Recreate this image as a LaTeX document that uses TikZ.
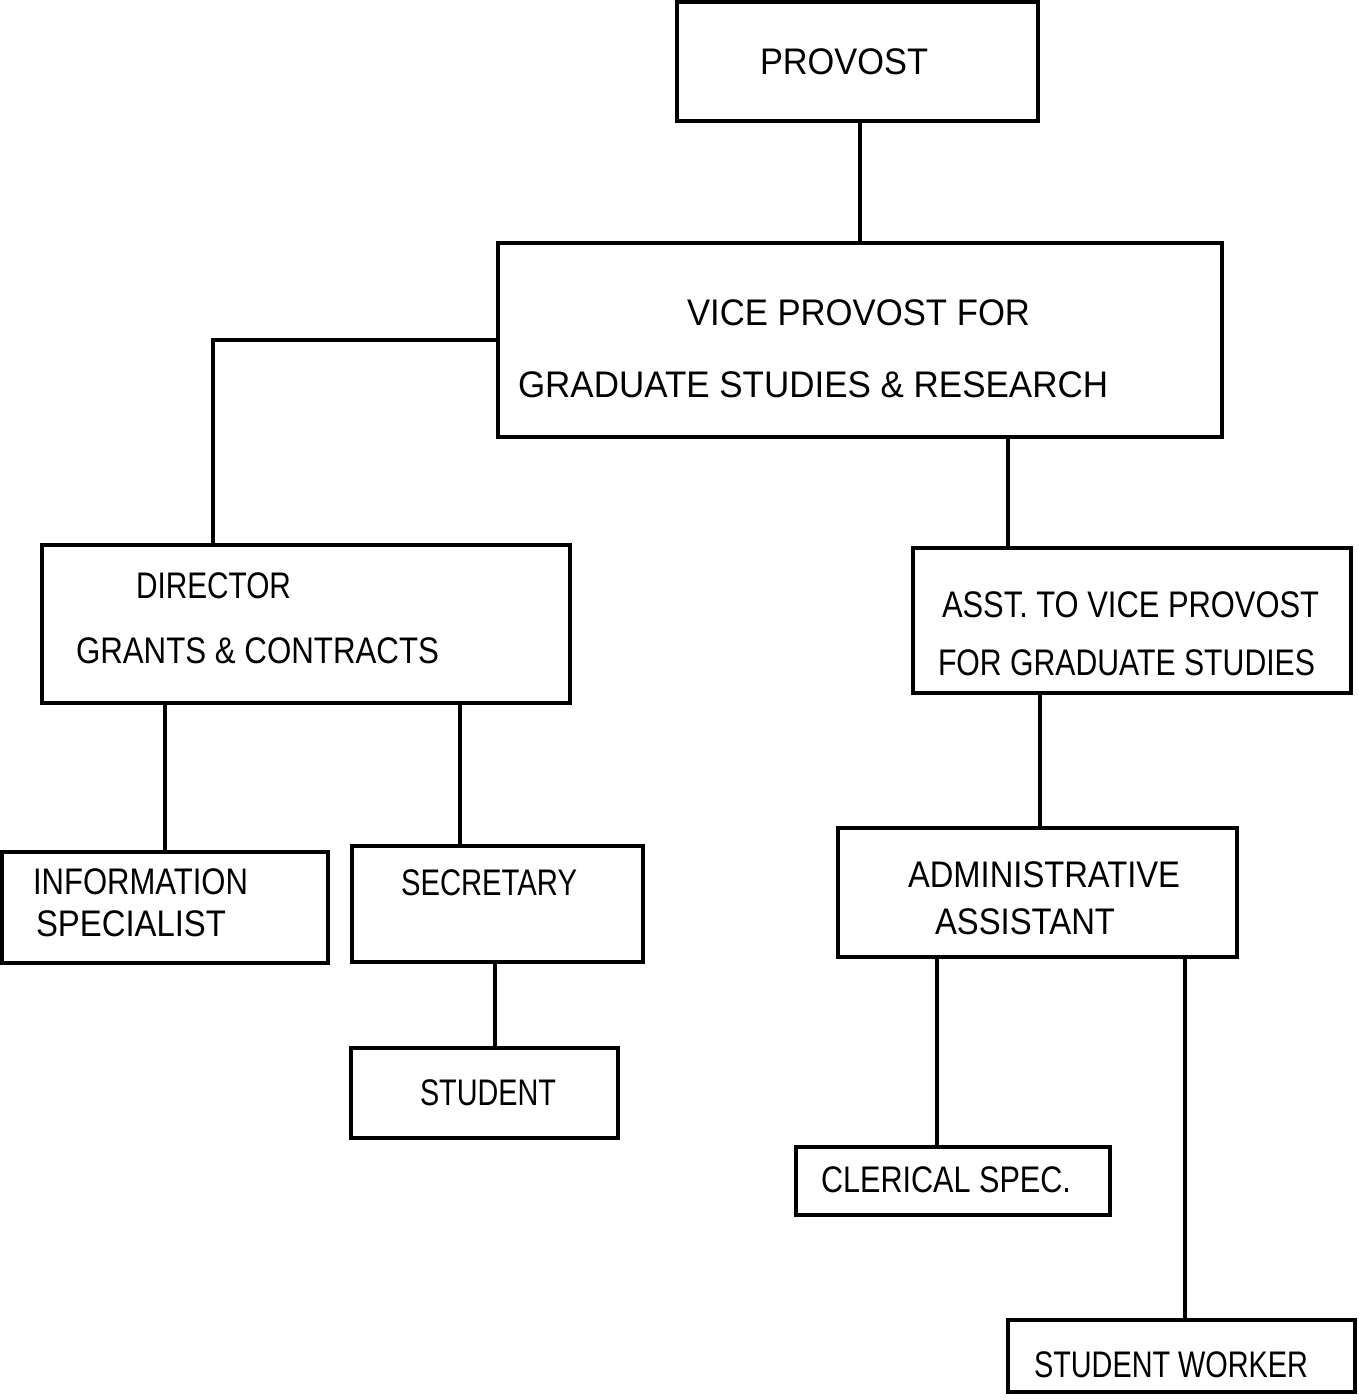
\documentclass[tikz,border=0pt]{standalone}
\usepackage{fontspec}
\usepackage{graphicx}
\setmainfont{Liberation Sans}
\newcommand\fitw[2]{\resizebox{#1pt}{\height}{#2}}
\tikzset{
  box/.style={draw=black, line width=4pt, rectangle, inner sep=0pt, outer sep=0pt},
  conn/.style={draw=black, line width=3.4pt},
  lbl/.style={anchor=base west, inner sep=0pt, outer sep=0pt, font=\fontsize{37}{40}\selectfont}
}
\begin{document}
\begin{tikzpicture}[x=1pt,y=-1pt]
\useasboundingbox (0,0) rectangle (1358,1400);
\fill[white] (0,0) rectangle (1358,1400);
% boxes
\node[box, minimum width=361pt, minimum height=119pt] (provost) at (857.5,61.5) {};
\node[box, minimum width=724pt, minimum height=194pt] (vp) at (860,340) {};
\node[box, minimum width=528pt, minimum height=158pt] (dir) at (306,624) {};
\node[box, minimum width=438pt, minimum height=145pt] (asst) at (1132,620.5) {};
\node[box, minimum width=326pt, minimum height=111pt] (info) at (165,907.5) {};
\node[box, minimum width=291pt, minimum height=116pt] (sec) at (497.5,904) {};
\node[box, minimum width=267pt, minimum height=90pt] (stud) at (484.5,1093) {};
\node[box, minimum width=399pt, minimum height=129pt] (admin) at (1037.5,892.5) {};
\node[box, minimum width=314pt, minimum height=68pt] (cler) at (953,1181) {};
\node[box, minimum width=347pt, minimum height=72pt] (sw) at (1181.5,1356) {};
% texts
\node[lbl] (t1) at (760,74) {\fitw{168}{PROVOST}};
\node[lbl] (t2) at (687,325) {\fitw{343}{VICE PROVOST FOR}};
\node[lbl] (t3) at (518,397) {\fitw{590}{GRADUATE STUDIES \& RESEARCH}};
\node[lbl] (t4) at (136,598) {\fitw{155}{DIRECTOR}};
\node[lbl] (t5) at (76,663) {\fitw{363}{GRANTS \& CONTRACTS}};
\node[lbl] (t6) at (942,617) {\fitw{377}{ASST. TO VICE PROVOST}};
\node[lbl] (t7) at (938,675) {\fitw{377}{FOR GRADUATE STUDIES}};
\node[lbl] (t8) at (33,894) {\fitw{215}{INFORMATION}};
\node[lbl] (t9) at (36,936) {\fitw{190}{SPECIALIST}};
\node[lbl] (t10) at (401,895) {\fitw{176}{SECRETARY}};
\node[lbl] (t11) at (420,1105) {\fitw{136}{STUDENT}};
\node[lbl] (t12) at (908,887) {\fitw{272}{ADMINISTRATIVE}};
\node[lbl] (t13) at (935,934) {\fitw{180}{ASSISTANT}};
\node[lbl] (t14) at (821,1192) {\fitw{250}{CLERICAL SPEC.}};
\node[lbl] (t15) at (1034,1377) {\fitw{274}{STUDENT WORKER}};
% connectors
\draw[conn] (provost.south -| vp.north) -- (vp.north);
\draw[conn] (vp.west) -| (dir.north -| 213,0);
\draw[conn] (vp.south -| 1008,0) -- (asst.north -| 1008,0);
\draw[conn] (dir.south -| info.north) -- (info.north);
\draw[conn] (dir.south -| 460,0) -- (sec.north -| 460,0);
\draw[conn] (sec.south -| 495,0) -- (stud.north -| 495,0);
\draw[conn] (asst.south -| 1040,0) -- (admin.north -| 1040,0);
\draw[conn] (admin.south -| 937,0) -- (cler.north -| 937,0);
\draw[conn] (admin.south -| 1185,0) -- (sw.north -| 1185,0);
\end{tikzpicture}
\end{document}
